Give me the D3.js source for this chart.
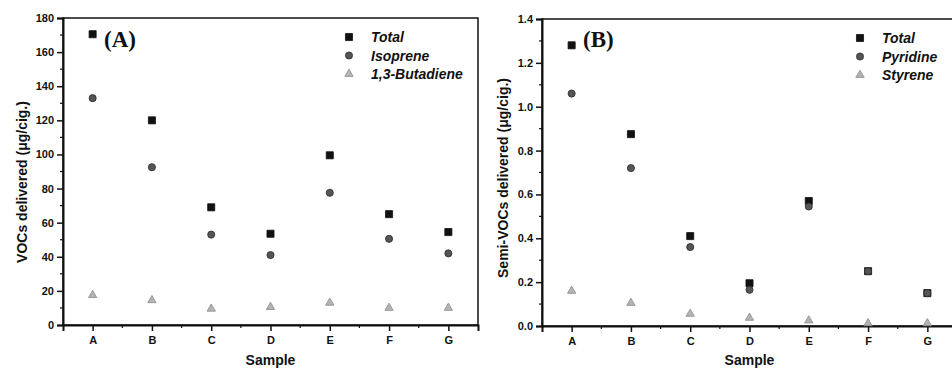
<!DOCTYPE html>
<html>
<head>
<meta charset="utf-8">
<script src="https://cdn.jsdelivr.net/npm/d3@7"></script>
<style>
  body { margin: 0; background: #fff; }
  svg { display: block; }
</style>
</head>
<body>
<svg id="chart" width="952" height="369"></svg>
<script>
// shared categories
const samples = ['A', 'B', 'C', 'D', 'E', 'F', 'G'];

// panel (A): VOCs, ug/cig.
const vocTotal = [170.5, 120, 69, 53.5, 99.5, 65, 54.5];
const vocIsoprene = [133, 92.5, 53, 41, 77.5, 50.5, 42];
const vocButadiene = [17.5, 14.5, 9.5, 10.5, 13, 10, 10];
const vocTicks = [0, 20, 40, 60, 80, 100, 120, 140, 160, 180];

// panel (B): semi-VOCs, ug/cig.
const semiTotal = [1.28, 0.875, 0.41, 0.195, 0.57, 0.25, 0.15];
const semiPyridine = [1.06, 0.72, 0.36, 0.165, 0.545, 0.25, 0.15];
const semiStyrene = [0.16, 0.105, 0.055, 0.037, 0.025, 0.012, 0.012];
const semiTicks = [0, 0.2, 0.4, 0.6, 0.8, 1.0, 1.2, 1.4];

const SANS = '"Liberation Sans", Arial, sans-serif';
const SERIF = '"Liberation Serif", "Times New Roman", serif';

const MARKERS = {
    square: {type: d3.symbolSquare, size: 50, fill: '#111', stroke: '#111'},
    circle: {type: d3.symbolCircle, size: 40, fill: '#555', stroke: '#2a2a2a'},
    triangle: {type: d3.symbolTriangle, size: 30, fill: '#b4b4b4', stroke: '#8a8a8a'}
};

const svg = d3.select('#chart');

function drawPanel(cfg) {
    const g = svg.append('g');
    const x = d3.scalePoint().domain(samples).range([cfg.left, cfg.right]).padding(0.5);
    const y = d3.scaleLinear().domain([0, cfg.ticks[cfg.ticks.length - 1]]).range([cfg.bottom, cfg.top]);

    // frame (top + right border)
    g.append('rect')
        .attr('x', cfg.left).attr('y', cfg.top)
        .attr('width', cfg.right - cfg.left).attr('height', cfg.bottom - cfg.top)
        .attr('fill', 'none').attr('stroke', '#111').attr('stroke-width', 1.5);

    // minor ticks, half way between majors
    const step = cfg.ticks[1] - cfg.ticks[0];
    const minorY = cfg.ticks.slice(0, -1).map(t => t + step / 2);
    g.append('g').selectAll('line').data(minorY).join('line')
        .attr('x1', cfg.left - 3).attr('x2', cfg.left)
        .attr('y1', d => y(d)).attr('y2', d => y(d))
        .attr('stroke', '#111').attr('stroke-width', 1.2);
    const minorX = samples.slice(0, -1).map((s, i) => (x(s) + x(samples[i + 1])) / 2);
    g.append('g').selectAll('line').data(minorX).join('line')
        .attr('x1', d => d).attr('x2', d => d)
        .attr('y1', cfg.bottom).attr('y2', cfg.bottom + 3)
        .attr('stroke', '#111').attr('stroke-width', 1.2);

    const yAxis = g.append('g')
        .attr('transform', `translate(${cfg.left},0)`)
        .call(d3.axisLeft(y).tickValues(cfg.ticks).tickFormat(cfg.fmt).tickSize(6).tickPadding(3));
    const xAxis = g.append('g')
        .attr('transform', `translate(0,${cfg.bottom})`)
        .call(d3.axisBottom(x).tickSize(6).tickPadding(5));
    [yAxis, xAxis].forEach(a => {
        a.select('.domain').attr('stroke', '#111').attr('stroke-width', 2);
        a.selectAll('.tick line').attr('stroke', '#111').attr('stroke-width', 1.5);
        a.selectAll('.tick text')
            .style('font-family', SANS)
            .attr('font-size', 11).attr('font-weight', 'bold').attr('fill', '#111');
    });

    // axis titles
    g.append('text')
        .attr('x', (cfg.left + cfg.right) / 2).attr('y', 365)
        .attr('text-anchor', 'middle')
        .style('font-family', SANS)
        .attr('font-size', 14).attr('font-weight', 'bold').attr('fill', '#111')
        .text('Sample');
    g.append('text')
        .attr('transform', `translate(${cfg.titleX},${cfg.titleY}) rotate(-90)`)
        .attr('text-anchor', 'middle')
        .style('font-family', SANS)
        .attr('font-size', 14).attr('font-weight', 'bold').attr('fill', '#111')
        .text(cfg.yTitle);

    // panel label
    g.append('text')
        .attr('x', cfg.left + 41).attr('y', 47)
        .style('font-family', SERIF)
        .attr('font-size', 23).attr('font-weight', 'bold').attr('fill', '#111')
        .text(cfg.label);

    // series, in legend order so the later markers sit on top
    cfg.series.forEach(s => {
        const m = MARKERS[s.marker];
        g.append('g').selectAll('path').data(s.values).join('path')
            .attr('d', d3.symbol().type(m.type).size(m.size))
            .attr('transform', (d, i) => `translate(${x(samples[i])},${y(d)})`)
            .attr('fill', m.fill).attr('stroke', m.stroke).attr('stroke-width', 0.8);
    });

    // legend
    cfg.series.forEach((s, i) => {
        const m = MARKERS[s.marker];
        const ly = cfg.legendY + i * 18.5;
        g.append('path')
            .attr('d', d3.symbol().type(m.type).size(m.size))
            .attr('transform', `translate(${cfg.legendX},${ly})`)
            .attr('fill', m.fill).attr('stroke', m.stroke).attr('stroke-width', 0.8);
        g.append('text')
            .attr('x', cfg.legendX + 22).attr('y', ly + 5)
            .style('font-family', SANS)
            .attr('font-size', 14).attr('font-weight', 'bold').attr('font-style', 'italic').attr('fill', '#111')
            .text(s.name);
    });
}

drawPanel({
    left: 63, right: 478, top: 18, bottom: 325,
    ticks: vocTicks, fmt: d3.format('d'),
    yTitle: 'VOCs delivered (\u03bcg/cig.)', titleX: 27, titleY: 182,
    label: '(A)', legendX: 349, legendY: 37,
    series: [
        {name: 'Total', marker: 'square', values: vocTotal},
        {name: 'Isoprene', marker: 'circle', values: vocIsoprene},
        {name: '1,3-Butadiene', marker: 'triangle', values: vocButadiene}
    ]
});

drawPanel({
    left: 542, right: 957, top: 19, bottom: 326,
    ticks: semiTicks, fmt: d3.format('.1f'),
    yTitle: 'Semi-VOCs delivered (\u03bcg/cig.)', titleX: 508, titleY: 178,
    label: '(B)', legendX: 860, legendY: 38,
    series: [
        {name: 'Total', marker: 'square', values: semiTotal},
        {name: 'Pyridine', marker: 'circle', values: semiPyridine},
        {name: 'Styrene', marker: 'triangle', values: semiStyrene}
    ]
});
</script>
</body>
</html>
